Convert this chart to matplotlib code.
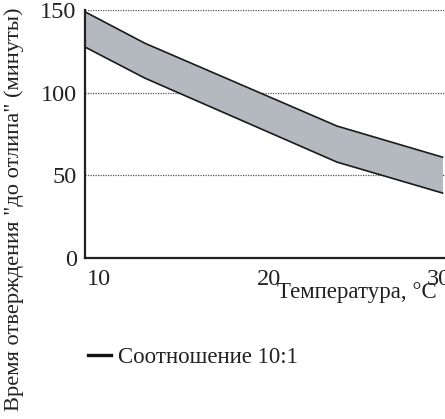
import matplotlib
matplotlib.use("Agg")
import matplotlib.pyplot as plt
from matplotlib.lines import Line2D

# Data
temps = [9.2, 12.7, 24.0, 30.2]
upper = [148.8, 129.9, 79.8, 61.0]
lower = [127.5, 108.8, 58.0, 39.3]
xticks = [10, 20, 30]
yticks = [0, 50, 100, 150]
grid_vals = [50, 100, 150]
ylabel = 'Время отверждения "до отлипа" (минуты)'
xlabel = 'Температура, °C'
legend_label = 'Соотношение 10:1'

plt.rcParams['font.family'] = ['Liberation Serif', 'DejaVu Serif']

fig = plt.figure(figsize=(4.45, 4.19), dpi=100)
ax = fig.add_axes([85/445, (419-258)/419, 360/445, 248/419])

ax.fill_between(temps, lower, upper, color='#b4b9c0', lw=0)
ax.plot(temps, upper, color='#1a1a1a', lw=1.2)
ax.plot(temps, lower, color='#1a1a1a', lw=1.2)

for g in grid_vals:
    ax.axhline(g, color='#555555', lw=0.9, ls=(0, (1, 1)), zorder=0)

ax.set_xlim(9.18, 30.35)
ax.set_ylim(0, 150)
ax.set_xticks(xticks)
ax.set_yticks(yticks)
ax.tick_params(length=0, labelsize=17.5, colors='#222222')
ax.tick_params(axis='x', pad=8)
ax.tick_params(axis='y', pad=6)
for s in ['top', 'right']:
    ax.spines[s].set_visible(False)
for s in ['left', 'bottom']:
    ax.spines[s].set_linewidth(1.6)
    ax.spines[s].set_color('#222222')

fig.text(14/445, 0.5, ylabel, rotation=90, ha='center', va='center',
         fontsize=16.2, color='#222222')
fig.text(277/445, 1-292/419, xlabel, ha='left', va='center',
         fontsize=16.5, color='#222222')

handle = Line2D([], [], color='#111111', lw=2.4)
leg = fig.legend([handle], [legend_label], loc='center left',
                 bbox_to_anchor=(88/445, 1-357/419), frameon=False,
                 fontsize=16.5, handlelength=1.0, handletextpad=0.3,
                 borderpad=0, borderaxespad=0)
for t in leg.get_texts():
    t.set_color('#222222')

fig.savefig('out.png', dpi=100)
